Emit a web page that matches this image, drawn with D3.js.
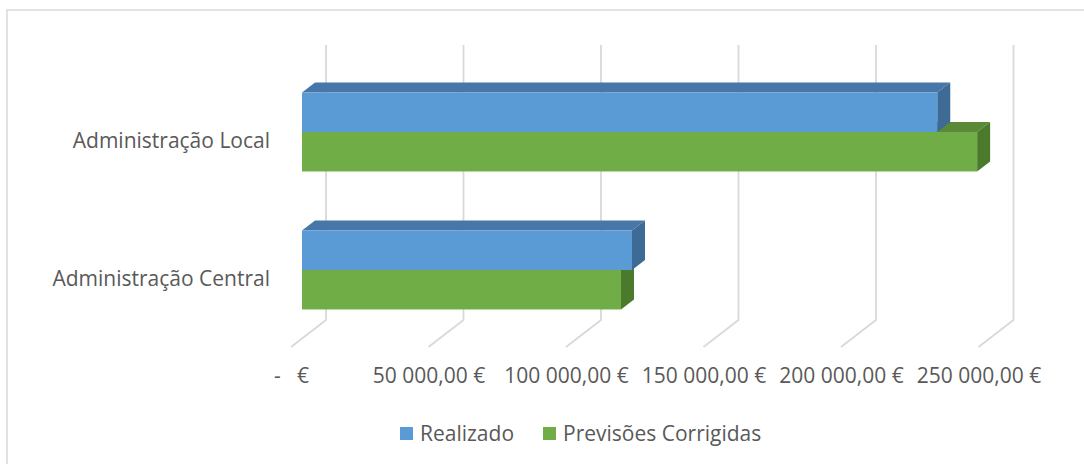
<!DOCTYPE html>
<html>
<head>
<meta charset="utf-8">
<script src="https://cdn.jsdelivr.net/npm/d3@7"></script>
<style>
  body { margin: 0; background: #fff; }
  text { font-family: "Open Sans", Lato, sans-serif; fill: #595959; }
</style>
</head>
<body>
<div id="chart"></div>
<script>
// data
const categories = ['Administração Local', 'Administração Central'];
const seriesNames = ['Realizado', 'Previsões Corrigidas'];
const realizado = [231000, 120000];
const previsoes = [245500, 116000];
const tickValues = [0, 50000, 100000, 150000, 200000, 250000];
const tickLabels = ['-   €', '50 000,00 €', '100 000,00 €', '150 000,00 €', '200 000,00 €', '250 000,00 €'];

const width = 1084;
const height = 464;

const colors = {
  front: ['#5b9bd5', '#70ad47'],
  top: ['#4677a8', '#5a8a38'],
  side: ['#3e6b95', '#4b7a2c']
};

const svg = d3.select('#chart')
  .append('svg')
  .attr('width', width)
  .attr('height', height);

// chart border
svg.append('rect')
  .attr('x', 7)
  .attr('y', 10)
  .attr('width', width + 10)
  .attr('height', height + 10)
  .attr('fill', 'none')
  .attr('stroke', '#d9d9d9')
  .attr('stroke-width', 1.5);

// front plane of bars
const x0 = 302;
const x = d3.scaleLinear().domain([0, 250000]).range([x0, x0 + 687.5]);
const y = d3.scaleBand().domain(categories).range([63, 339]).paddingInner(0.428).paddingOuter(0.214);
const seriesY = d3.scaleBand().domain(seriesNames).range([0, y.bandwidth()]);

const depth = [13, -10];      // bar depth
const wall = [24, -18.5];     // back wall offset
const floorFront = [-11, 8.5];
const floorY = 338.5;
const gridTop = 45;

// gridlines: back wall + floor
const grid = svg.append('g').attr('class', 'grid');
grid.selectAll('path')
  .data(tickValues)
  .enter()
  .append('path')
  .attr('d', d => {
    const bx = x(d) + wall[0];
    const by = floorY + wall[1];
    return `M${bx},${gridTop} L${bx},${by} L${x(d) + floorFront[0]},${floorY + floorFront[1]}`;
  })
  .attr('fill', 'none')
  .attr('stroke', '#d9d9d9')
  .attr('stroke-width', 1.8);

// bars, green first then blue on top
const bars = [];
categories.forEach((c, i) => {
  bars.push({cat: c, s: 1, v: previsoes[i]});
  bars.push({cat: c, s: 0, v: realizado[i]});
});
bars.sort((a, b) => b.s - a.s);

const barG = svg.append('g').attr('class', 'bars');
bars.forEach(b => {
  const yt = y(b.cat) + seriesY(seriesNames[b.s]);
  const h = seriesY.bandwidth();
  const xl = x(0);
  const xr = x(b.v);
  const g = barG.append('g');
  g.append('path')
    .attr('d', `M${xl},${yt} L${xl + depth[0]},${yt + depth[1]} L${xr + depth[0]},${yt + depth[1]} L${xr},${yt} Z`)
    .attr('fill', colors.top[b.s]);
  g.append('path')
    .attr('d', `M${xr},${yt} L${xr + depth[0]},${yt + depth[1]} L${xr + depth[0]},${yt + h + depth[1]} L${xr},${yt + h} Z`)
    .attr('fill', colors.side[b.s]);
  g.append('rect')
    .attr('x', xl)
    .attr('y', yt)
    .attr('width', xr - xl)
    .attr('height', h)
    .attr('fill', colors.front[b.s]);
});

// x axis labels on floor front edge
const axisX = d3.axisBottom(x)
  .tickValues(tickValues)
  .tickFormat((d, i) => tickLabels[i])
  .tickSize(0)
  .tickPadding(0);

const gx = svg.append('g')
  .attr('transform', `translate(${floorFront[0]}, 368)`)
  .call(axisX);
gx.select('.domain').remove();
gx.selectAll('text')
  .attr('font-size', 21)
  .attr('font-family', null)
  .style('white-space', 'pre')
  .attr('fill', '#595959');

// category labels
const axisY = d3.axisLeft(y).tickSize(0).tickPadding(0);
const gy = svg.append('g')
  .attr('transform', `translate(270, 9)`)
  .call(axisY);
gy.select('.domain').remove();
gy.selectAll('text')
  .attr('font-size', 21)
  .attr('font-family', null)
  .attr('fill', '#595959');

// legend
const legend = svg.append('g').attr('class', 'legend');
const legendX = [400, 543];
seriesNames.forEach((s, i) => {
  legend.append('rect')
    .attr('x', legendX[i])
    .attr('y', 427)
    .attr('width', 13)
    .attr('height', 13)
    .attr('fill', colors.front[i]);
  legend.append('text')
    .attr('x', legendX[i] + 20)
    .attr('y', 434)
    .attr('dy', '0.35em')
    .attr('font-size', 21)
    .text(s);
});
</script>
</body>
</html>
